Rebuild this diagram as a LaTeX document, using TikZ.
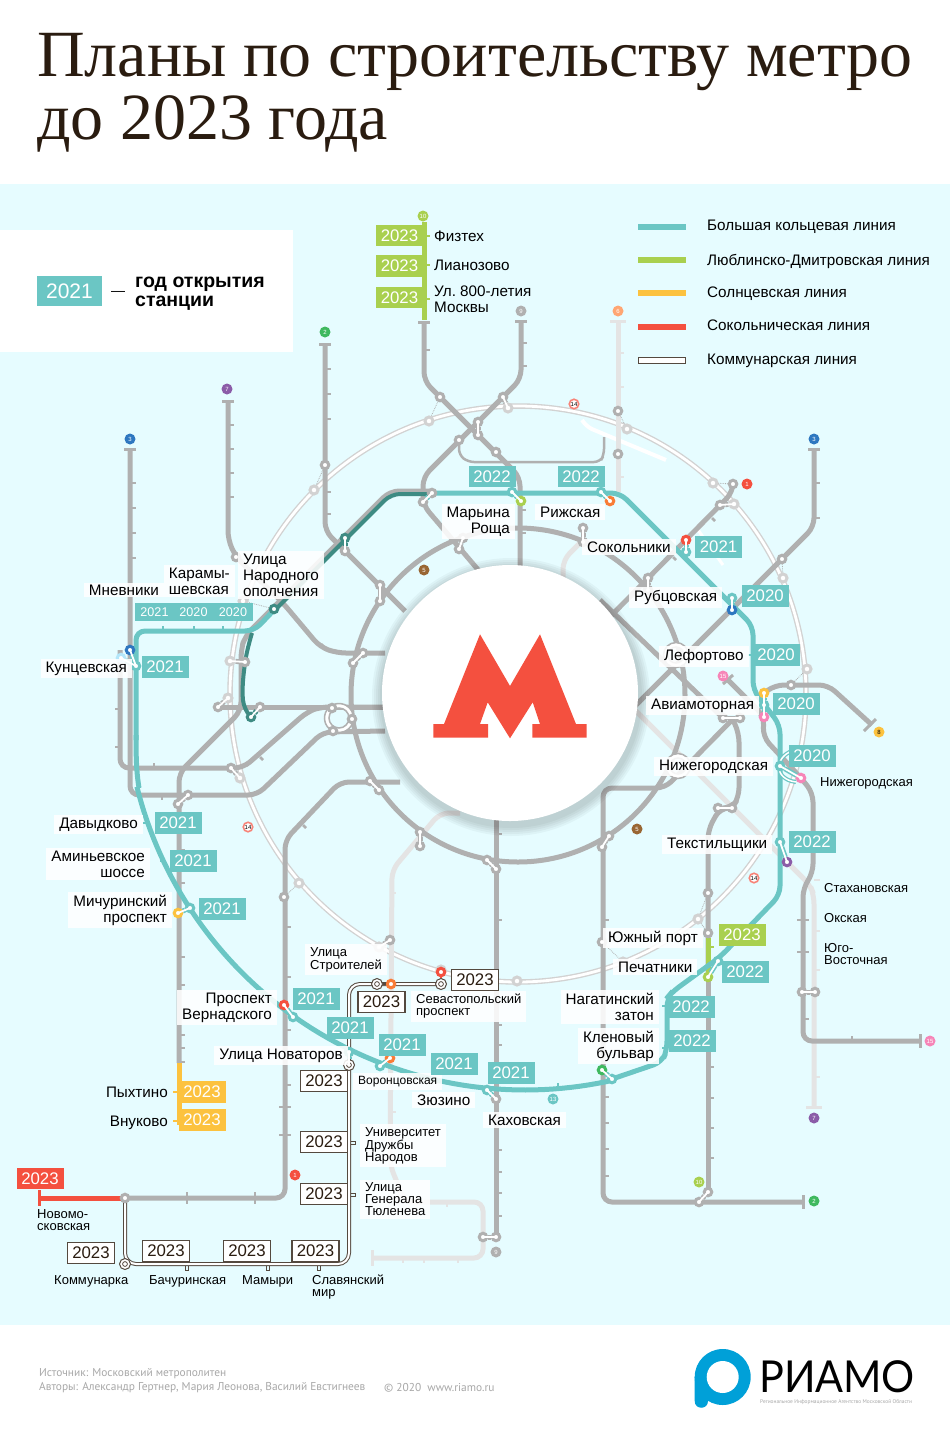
\documentclass[tikz,border=0pt]{standalone}
\usepackage{fontspec}
\setmainfont{Liberation Sans}
\newfontfamily\titlefont{Liberation Serif}
\newfontfamily\footfont{PT Sans}
\newfontfamily\logofont{Lato}
\newcommand\yrfont{\fontsize{16.8}{18}\selectfont}
\newcommand\lblfont{\fontsize{15.25}{16}\selectfont}
\newcommand\slblfont{\fontsize{13}{12}\selectfont}
\definecolor{mapbg}{HTML}{E6FCFF}
\definecolor{mgrey}{HTML}{B0B0B0}
\definecolor{lgrey}{HTML}{E4E4E4}
\definecolor{ringg}{HTML}{D2D2D2}
\definecolor{tealc}{HTML}{6BC6C4}
\definecolor{dteal}{HTML}{3E8B83}
\definecolor{greenc}{HTML}{A9D04F}
\definecolor{yelc}{HTML}{FCC23F}
\definecolor{redc}{HTML}{F4503F}
\definecolor{orc}{HTML}{F97C36}
\definecolor{pinkc}{HTML}{F685B8}
\definecolor{bluec}{HTML}{2E77C0}
\definecolor{violc}{HTML}{8B5CA8}
\definecolor{grnc}{HTML}{3FB95F}
\definecolor{kdark}{HTML}{54493F}
\definecolor{titlec}{HTML}{2A1C10}
\definecolor{footc}{HTML}{A8A8A8}
\definecolor{logoc}{HTML}{00A0D8}
\tikzset{
  mline/.style={mgrey,line width=5,rounded corners=9},
  lline/.style={lgrey,line width=5,rounded corners=9},
  tline/.style={tealc,line width=5,rounded corners=9},
  tickg/.style={mgrey,line width=2.5},
  tickl/.style={lgrey,line width=2.5},
  tickt/.style={tealc,line width=2.5},
  stn/.style={circle,draw=#1,fill=white,line width=3,minimum size=7.5,inner sep=0},
  stn/.default=mgrey,
  rstn/.style={circle,draw=ringg,fill=white,line width=3,minimum size=8,inner sep=0},
  kstn/.style={circle,draw=kdark,fill=white,line width=1,minimum size=11,inner sep=0,
    path picture={\draw[kdark,line width=.8] (path picture bounding box.center) circle (2.4);}},
  yr/.style={fill=#1,text=white,minimum width=47,minimum height=21.5,inner sep=0,font=\yrfont},
  yrw/.style={fill=white,draw=kdark,line width=1.2,text=titlec,minimum width=47,minimum height=21,inner sep=0,font=\yrfont},
  lbl/.style={fill=white,fill opacity=.88,text opacity=1,inner xsep=5,inner ysep=3,yshift=-1.5,font=\lblfont},
  slbl/.style={inner sep=0,font=\slblfont,align=left,anchor=west},
  lnum/.style={circle,fill=#1,text=white,minimum size=11,inner sep=0,font=\fontsize{6}{6}\selectfont},
  lnumr/.style={circle,fill=white,draw=redc!70!white,line width=1.6,text=black,minimum size=9.5,inner sep=0,font=\fontsize{6}{6}\selectfont},
  dotlink/.style={mgrey,line width=.8,densely dotted},
}
\newcommand\xfer[3][mgrey]{%
  \draw[#1,line width=5] (#2) -- (#3);
  \draw[white,line width=1.8] (#2.center) -- (#3.center);}
\begin{document}
\begin{tikzpicture}[x=1pt,y=-1pt]
  \useasboundingbox (0,0) rectangle (950,1436);
  \fill[white] (0,0) rectangle (950,1436);
  \fill[mapbg] (0,184) rectangle (950,1325);
  \node[anchor=base west,inner sep=0,text=titlec,font=\titlefont\fontsize{66}{66}\selectfont] (title1) at (37,76) {Планы по строительству метро};
  \node[anchor=base west,inner sep=0,text=titlec,font=\titlefont\fontsize{66}{66}\selectfont] (title2) at (37,139) {до 2023 года};

  % legend
  \fill[white] (0,230) rectangle (293,352);
  \node[yr=tealc,minimum width=65,minimum height=30,font=\fontsize{21}{22}\selectfont] (keybox) at (69.5,291) {2021};
  \node[inner sep=0,font=\fontsize{14}{14}\selectfont] (keydash) at (118,293) {—};
  \node[anchor=west,inner sep=0,align=left,font=\bfseries\fontsize{19.5}{19}\selectfont] (keytext) at (135,294) {год открытия\\станции};
  \foreach \nm/\py/\ty/\col/\txt in {bkl/227/227/tealc/Большая кольцевая линия,ldl/260/261/greenc/Люблинско-Дмитровская линия,sol/293/294/yelc/Солнцевская линия,sok/327/325/redc/Сокольническая линия}{
    \fill[\col] (638,\py-3) rectangle (686,\py+3);
    \node[anchor=west,inner sep=0,font=\lblfont] (\nm) at (707,\ty) {\txt};
  }
  \draw[kdark,fill=white,line width=1] (638.5,357.5) rectangle (685.5,363);
  \node[anchor=west,inner sep=0,font=\lblfont] (kom) at (707,361) {Коммунарская линия};

  % ring 14
  \draw[ringg,line width=5.5] (518,694) circle (288);
  \draw[white,line width=2.8] (518,694) circle (288);
  \draw[white,line width=4,rounded corners=6] (582,420) -- (587,427) -- (666,460);
  \draw[white,line width=3] (696,527) -- (723,565);

  % pale lines
  \draw[lline] (618,321) -- (618,492);
  \draw[lline] (583,540) -- (563,560) -- (563,585);
  \draw[lline] (600,675) -- (810,885) -- (814,895) -- (814,1107);
  \draw[lline] (460,813) -- (440,813) -- (392,870) -- (390,1165) -- (405,1202) -- (483,1202) -- (483,1258) -- (372,1258);
  \draw[lgrey,line width=3] (372,1250) -- (372,1266);
  \draw[lgrey,line width=3] (610,321) -- (626,321);
  \draw[lgrey,line width=3] (806,1107) -- (822,1107);
  \foreach \px/\py in {618/353,618/387,618/477,390/893,390/1112,814/931,814/970,814/1077,814/880}
    \draw[tickl] (\px,\py) -- ++(6,0);
  \foreach \px in {403,424,458} \draw[tickl] (\px,1258) -- ++(0,5);
  \draw[tickl] (447,1202) -- ++(0,5);

  % metro lines
  \draw[mgrey,line width=5] (518,695) circle (167);
  \draw[mline] (424,322) -- (424,381) -- (520,477) -- (520,600);
  \draw[mline] (521,321) -- (521,379) -- (423,477) -- (423,505) -- (480,572);
  \draw[mline] (325,344) -- (325,531) -- (405,611);
  \draw[mline] (228,401) -- (228,540) -- (236,557) -- (283,603) -- (320,647) -- (337,653) -- (385,653);
  \draw[mline] (130,449) -- (130,795) -- (257,795) -- (323,732) -- (385,731);
  \draw[mline] (120,650) -- (120,768) -- (243,768) -- (307,712) -- (320,707) -- (385,707);
  \draw[mline] (218,707) -- (385,707);
  \draw[mline] (432,491) -- (390,491) -- (245,636) -- (241,650) -- (241,711) -- (179,773) -- (179,1063);
  \draw[mline] (400,782) -- (340,782) -- (285,840) -- (285,1198) -- (125,1198);
  \draw[mline] (496,815) -- (496,1238);
  \draw[mline] (732,720) -- (665,788) -- (603,788) -- (603,1202) -- (803,1202);
  \draw[mline] (708,977) -- (708,830) -- (720,808) -- (732,808) -- (739,797) -- (739,733) -- (732,718);
  \draw[mline] (708,975) -- (708,1192);
  \draw[mline] (733,484) -- (733,492) -- (600,627);
  \draw[mline] (600,600) -- (723,718);
  \draw[mline] (814,449) -- (814,527) -- (600,741);
  \draw[mline] (872,725) -- (828,685) -- (775,685) -- (764,693);
  \draw[mline] (728,680) -- (764,716) -- (763,737) -- (801,778) -- (813,793) -- (813,873) -- (803,888) -- (803,1041) -- (920,1041);
  \draw[mgrey,line width=2.5,rounded corners=6] (459,440) -- (459,455) -- (468,462) -- (600,462) -- (604,455) -- (604,437);
  % end caps
  \foreach \px/\py in {424/322,521/321,325/344,228/401,130/449,814/449}
    \draw[mgrey,line width=3] (\px-6,\py) -- (\px+6,\py);
  \draw[mgrey,line width=3] (803,1195) -- (803,1209);
  \draw[mgrey,line width=3] (920,1034) -- (920,1048);
  \draw[mgrey,line width=3] (864,731) -- (876,719);
  \draw[mgrey,line width=3] (723,684) -- (733,675);
  % ticks
  \foreach \px/\py in {130/483,130/508,130/533,130/558,228/425,228/449,228/473,228/497,325/369,325/394,325/419,325/492,325/514,424/350,521/343,521/366,814/483,814/518,179/850,179/883,179/957,179/985,179/1035,179/1048,179/1062,285/927,285/977,285/1030,285/1085,496/834,496/920,496/1025,496/1045,496/1150,496/1172,496/1193,496/1216,603/920,603/1097,603/1123,603/1149,603/1176,708/1067,708/1098,708/1128,708/1158,803/1019,520/510,520/533}
    \draw[tickg] (\px,\py) -- ++(6,0);
  \foreach \px/\py in {285/1107,285/1135,803/920,803/952}
    \draw[tickg] (\px-6,\py) -- (\px+6,\py);
  \foreach \px in {187,255} \draw[tickg] (\px,1192) -- (\px,1204);
  \draw[tickg] (852,1041) -- ++(0,-5);
  \draw[tickg] (712,518) -- ++(3,3);
  \draw[tickg] (673,557) -- ++(3,3);
  \draw[tickg] (120,709) -- ++(-5,0);
  \draw[tickg] (120,747) -- ++(-5,0);
  \draw[tickg] (154,768) -- ++(0,-5);
  \draw[tickg] (162,795) -- ++(0,5);
  \draw[tickg] (303,630) -- ++(3,-3);
  \draw[tickg] (320,647) -- ++(3,-3);
  \draw[tickg] (260,757) -- ++(3,3);
  \draw[tickg] (303,825) -- ++(3,3);

  % line extensions
  \draw[greenc,line width=5] (424,222) -- (424,320);
  \foreach \py in {236,265,299} \draw[greenc,line width=2.5] (424,\py) -- ++(6,0);
  \draw[greenc,line width=5] (708,938) -- (708,972);
  \draw[greenc,line width=2.5] (708,947) -- ++(6,0);
  \draw[yelc,line width=5] (179,1063) -- (179,1125);
  \foreach \py in {1092,1121} \draw[yelc,line width=2.5] (179,\py) -- ++(-6,0);
  \draw[redc,line width=5] (39,1198) -- (122,1198);
  \draw[redc,line width=3] (39,1190) -- (39,1206);

  % bkl
  \draw[dteal,line width=4,rounded corners=9] (432,494) -- (391,494) -- (274,611);
  \draw[dteal,line width=4] plot[smooth,tension=.7] coordinates {(252,633) (245,663) (243,700) (251,717)};
  \draw[tline] (432,493) -- (620,493) -- (753,626) -- (753,690) -- (780,725) -- (780,895) -- (720,957) -- (672,992) -- (667,998) -- (667,1050) -- (662,1062) -- (612,1079);
  \draw[tealc,line width=5] plot[domain=77:166,samples=70] ({525+400*cos(\x)},{690+400*sin(\x)});
  \draw[tealc,line width=5] (139,788) .. controls (137,775) and (136,765) .. (136,735);
  \draw[tline] (136,740) -- (136,631) -- (254,631) -- (274,610);
  \foreach \px in {163,194,223} \draw[tickt] (\px,631) -- ++(0,-5);
  \foreach \px/\py in {143/823,160/861,748/655,662/1006,662/1048} \draw[tickt] (\px,\py) -- ++(5,0);
  \draw[tickt] (558,1088) -- ++(0,-5);
  \draw[tealc,line width=4] (792,751) .. controls (775,757) and (773,779) .. (796,782);
  \draw[white,line width=1.5] (792,751) .. controls (775,757) and (773,779) .. (796,782);

  % kommunarskaya
  \draw[kdark,line width=4,rounded corners=11] (125,1198) -- (125,1264) -- (349,1264) -- (349,984) -- (441,984);
  \draw[white,line width=2,rounded corners=11] (125,1198) -- (125,1264) -- (349,1264) -- (349,984) -- (441,984);
  \foreach \px in {187,268,319} \draw[kdark,line width=1] (\px-1.5,1266) -- (\px-1.5,1270) -- (\px+1.5,1270) -- (\px+1.5,1266);
  \foreach \py in {1143,1195} \draw[kdark,line width=1] (351,\py-1.5) -- (355,\py-1.5) -- (355,\py+1.5) -- (351,\py+1.5);

  % logo circle
  \foreach \rr in {139,137,135,133,131}
    \fill[black,opacity=.035] (511,697) circle (\rr);
  \fill[white] (510,693) circle (128);
  \fill[redc] (433.3,724) -- (444,724) -- (480,634.3) -- (510,686) -- (540,634.3) -- (576,724) -- (586.7,724) -- (586.7,737.7) -- (532.3,737.7) -- (532.3,724) -- (540,724) -- (532.7,702.3) -- (510,738.3) -- (487.7,702.3) -- (480,724) -- (488,724) -- (488,737.7) -- (433.3,737.7) -- cycle;

  % stations
  \foreach \cx/\cy/\cr in {339/718/12,676/655/10,678/766/10}{
    \draw[white,line width=4] (\cx,\cy) circle (\cr);
    \draw[mgrey,line width=1.5] (\cx,\cy) circle (\cr+2.5);
    \draw[mgrey,line width=1.5] (\cx,\cy) circle (\cr-2);
  }
  \foreach \nm/\px/\py in {r1/429/421,r2/508/408,r3/627/429,r4/713/483,r5/734/504,r6/783/578,r7/807/669,r8/698/919,r9/623/962,r10/517/981,r11/379/947,r12/299/883,r13/240/778,r14/228/698,r15/230/661,r16/314/490,r17/243/601,r18/441/970}
    \node[rstn] (\nm) at (\px,\py) {};
  \foreach \nm/\px/\py in {s1/440/397,s2/503/397,s3/478/422,s4/478/435,s5/496/452,s6/459/440,s7/432/493,s8/423/502,s9/325/465,s10/618/411,s11/618/454,s12/733/484,s13/720/505,s14/782/559,s15/648/578,s16/648/590,s17/345/551,s18/380/585,s19/380/601,s20/463/538,s21/459/549,s22/583/528,s23/583/542,s24/236/557,s25/245/662,s26/218/707,s27/231/768,s28/188/795,s29/178/804,s30/370/781,s31/379/790,s32/363/653,s33/353/663,s34/420/832,s35/420/846,s36/487/860,s37/496/869,s38/609/836,s39/602/847,s40/718/808,s41/732/808,s42/723/718,s43/740/718,s44/791/685,s45/708/893,s46/708/933,s47/602/942,s48/390/940,s49/284/897,s50/802/992,s51/815/992,s52/699/1202,s53/708/1192,s54/483/1237,s55/496/1237,s56/496/1099,s57/125/1198,s58/332/708,s59/352/719,s60/333/731,s61/260/707}
    \node[stn] (\nm) at (\px,\py) {};
  \foreach \nm/\px/\py/\col in {t1/512/492/tealc,t2/521/501/greenc,t3/601/492/tealc,t4/610/501/orc,t5/686/540/redc,t6/686/552/tealc,t7/732/598/tealc,t8/732/610/bluec,t9/764/693/yelc,t10/764/705/tealc,t11/764/717/pinkc,t12/780/766/tealc,t13/801/778/pinkc,t14/780/842/tealc,t15/787/862/violc,t16/718/961/tealc,t17/708/977/greenc,t18/612/1079/tealc,t19/602/1070/grnc,t20/487/1090/tealc,t21/380/1066/tealc,t22/390/1058/orc,t23/349/1052/tealc,t24/293/1017/tealc,t25/284/1005/redc,t26/190/908/tealc,t27/178/913/yelc,t28/136/666/tealc,t29/130/650/bluec,t30/121/658/cyan!30!white,t31/274/609/dteal,t32/251/717/dteal,t33/345/538/dteal,t34/391/984/orc,t35/441/972/redc}
    \node[stn=\col] (\nm) at (\px,\py) {};
  \foreach \nm/\px/\py in {k1/125/1264,k2/349/1065,k3/377/984,k4/441/984}
    \node[kstn] (\nm) at (\px,\py) {};

  % transfers
  \xfer{s2}{r2}
  \xfer{s3}{s4}
  \xfer[tealc]{s7}{s8}
  \xfer[tealc]{t1}{t2}
  \xfer[tealc]{t3}{t4}
  \xfer[tealc]{t5}{t6}
  \xfer[tealc]{t7}{t8}
  \xfer[tealc]{t9}{t10}
  \xfer[tealc]{t10}{t11}
  \xfer[tealc]{t12}{t13}
  \xfer[tealc]{t14}{t15}
  \xfer[tealc]{t16}{t17}
  \xfer[tealc]{t18}{t19}
  \xfer[tealc]{t20}{s56}
  \xfer[tealc]{t21}{t22}
  \xfer[tealc]{t23}{k2}
  \xfer[tealc]{t24}{t25}
  \xfer[tealc]{t26}{t27}
  \xfer[tealc]{t28}{t29}
  \xfer[tealc]{t28}{t30}
  \xfer[dteal]{t32}{s61}
  \xfer[dteal]{t33}{s17}
  \xfer{s18}{s19}
  \xfer{s20}{s21}
  \xfer{s22}{s23}
  \xfer{s13}{r5}
  \xfer{s15}{s16}
  \xfer{r15}{s25}
  \xfer{r14}{s26}
  \xfer{s27}{r13}
  \xfer{s28}{s29}
  \xfer{s30}{s31}
  \xfer{s32}{s33}
  \xfer{s34}{s35}
  \xfer{s36}{s37}
  \xfer{s38}{s39}
  \xfer{s40}{s41}
  \xfer{s42}{s43}
  \xfer{s48}{r11}
  \xfer{s50}{s51}
  \xfer{s52}{s53}
  \xfer{s54}{s55}
  \draw[kdark,line width=1.5] (k3) -- (t34);
  \draw[redc,line width=1.5] (t35) -- (k4);

  % dotted walkways
  \foreach \aa/\bb in {s1/r1,s9/r16,s10/r3,s12/r4,s14/r6,s44/r7,s45/r8,r8/s46,s47/r9,s49/r12,t31/r17}
    \draw[dotlink] (\aa) -- (\bb);

  % labels
  \node[lbl,anchor=east,align=right] (mroshcha) at (515,520) {Марьина\\Роща};
  \node[lbl,anchor=west] (rizh) at (535,510.5) {Рижская};
  \node[lbl,anchor=west] (sokol) at (582,545.5) {Сокольники};
  \node[lbl,anchor=west] (rubc) at (629,596) {Рубцовская};
  \node[lbl,anchor=west] (lefo) at (659,655) {Лефортово};
  \node[lbl,anchor=west] (avia) at (646,704) {Авиамоторная};
  \node[lbl,anchor=west] (nizh) at (654,765) {Нижегородская};
  \node[lbl,anchor=west] (text) at (662,843) {Текстильщики};
  \node[lbl,anchor=west] (yuzh) at (603,936.5) {Южный порт};
  \node[lbl,anchor=west] (pech) at (613,965.5) {Печатники};
  \node[lbl,anchor=east,align=right] (nagat) at (659,1005.5) {Нагатинский\\затон};
  \node[lbl,anchor=east,align=right] (klen) at (659,1044.5) {Кленовый\\бульвар};
  \node[lbl,anchor=west] (kakh) at (483,1118.5) {Каховская};
  \node[lbl,anchor=west] (zyuz) at (412,1098.5) {Зюзино};
  \node[lbl,anchor=east,align=right] (vern) at (277,1006) {Проспект\\Вернадского};
  \node[lbl,anchor=east] (novat) at (348,1054) {Улица Новаторов};
  \node[lbl,anchor=east,align=right] (michur) at (172,908.5) {Мичуринский\\проспект};
  \node[lbl,anchor=east,align=right] (amin) at (150,862.5) {Аминьевское\\шоссе};
  \node[lbl,anchor=east] (davyd) at (143,823) {Давыдково};
  \node[lbl,anchor=east] (kunc) at (132,667) {Кунцевская};
  \node[lbl,anchor=east,inner ysep=2] (mnev) at (164,588.5) {Мневники};
  \node[lbl,anchor=east,align=left] (karam) at (235,579.5) {Карамы-\\шевская};
  \node[lbl,anchor=west,align=left] (narod) at (238,573.5) {Улица\\Народного\\ополчения};
  \node[lbl,anchor=west,font=\slblfont,align=left] (stroit) at (305,958) {Улица\\Строителей};
  \node[lbl,anchor=west,font=\slblfont,align=left] (sevast) at (411,1005) {Севастопольский\\проспект};
  \node[lbl,anchor=west,font=\slblfont,align=left] (univ) at (360,1144) {Университет\\Дружбы\\Народов};
  \node[lbl,anchor=west,font=\slblfont,align=left] (tyul) at (360,1198) {Улица\\Генерала\\Тюленева};
  \node[lbl,anchor=west,font=\fontsize{12}{12}\selectfont] (voron) at (353,1080) {Воронцовская};

  % labels on the bare background
  \node[anchor=west,inner sep=0,font=\lblfont] (fiz) at (434,236) {Физтех};
  \node[anchor=west,inner sep=0,font=\lblfont] (lian) at (434,265) {Лианозово};
  \node[anchor=west,inner sep=0,font=\lblfont,align=left] (ul800) at (434,299) {Ул.\ 800-летия\\Москвы};
  \node[anchor=east,inner sep=0,font=\lblfont] (pykh) at (168,1092) {Пыхтино};
  \node[anchor=east,inner sep=0,font=\lblfont] (vnuk) at (168,1122.5) {Внуково};
  \node[slbl] (nizh2) at (820,783) {Нижегородская};
  \node[slbl] (stakh) at (824,888) {Стахановская};
  \node[slbl] (oks) at (824,918) {Окская};
  \node[slbl] (yugv) at (824,954) {Юго-\\Восточная};
  \node[slbl] (novom) at (37,1220) {Новомо-\\сковская};
  \node[slbl] (kommun) at (54,1281) {Коммунарка};
  \node[slbl] (bach) at (149,1281) {Бачуринская};
  \node[slbl] (mam) at (242,1281) {Мамыри};
  \node[slbl] (slav) at (312,1287) {Славянский\\мир};

  % year boxes
  \foreach \nm/\px/\py/\yy in {a/492/476.5/2022,b/581/476.5/2022,c/718.5/547/2021,d/765/596/2020,e/776/655/2020,f/796/704/2020,g/812/756/2020,h/812/842/2022,i/745/972/2022,j/691/1007/2022,k/692/1041/2022,l/511/1073/2021,m/454/1064/2021,n/402/1045/2021,o/350/1028/2021,p/316/999/2021,q/222/909/2021,r/193/861/2021,s/178/823/2021,t/165/667/2021}
    \node[yr=tealc] (yr\nm) at (\px,\py) {\yy};
  \foreach \nm/\px/\yy in {a/154.5/2021,b/193.5/2020,c/233/2020}
    \node[yr=tealc,minimum width=39.5,minimum height=18,font=\fontsize{12.6}{13}\selectfont] (ys\nm) at (\px,612) {\yy};
  \foreach \nm/\py in {a/235.5,b/266,c/297.5}
    \node[yr=greenc] (yg\nm) at (399.5,\py) {2023};
  \node[yr=greenc] (ygd) at (742,935) {2023};
  \node[yr=yelc] (yya) at (202,1092) {2023};
  \node[yr=yelc] (yyb) at (202,1120) {2023};
  \node[yr=redc] (yred) at (40,1178.5) {2023};
  \foreach \nm/\px/\py in {a/91/1253,b/166/1251,c/247/1251,d/315.5/1251,e/324/1194,f/324/1142,g/324/1081,h/381.5/1002,i/475/980}
    \node[yrw] (yw\nm) at (\px,\py) {2023};

  % line numbers
  \foreach \nm/\px/\py/\col/\no in {n1/423/216/greenc/10,n2/325/332/grnc/2,n3/227/389/violc/7,n4/130/439/bluec/3,n5/521/311/mgrey/9,n6/618/311/orange!40!pink/6,n7/814/439/bluec/3,n8/747/484/redc/1,n9/424/570/brown!80!black/5,n10/723/676/pinkc/15,n11/637/829/brown!80!black/5,n12/553/1099/tealc/13,n13/699/1182/greenc/10,n14/814/1201/grnc/2,n15/814/1118/violc/7,n16/930/1041/pinkc/15,n17/496/1252/mgrey/9,n18/295/1175/redc/1}
    \node[lnum=\col] (\nm) at (\px,\py) {\no};
  \foreach \nm/\px/\py in {n19/574/404,n20/248/827,n21/754/878}
    \node[lnumr] (\nm) at (\px,\py) {14};
  \node[lnum=yelc,text=black] (n22) at (879,732) {8};

  % footer
  \node[anchor=west,inner sep=0,text=footc,font=\footfont\fontsize{11.4}{11}\selectfont] (foot1) at (39,1374) {Источник: Московский метрополитен};
  \node[anchor=west,inner sep=0,text=footc,font=\footfont\fontsize{11.4}{11}\selectfont] (foot2) at (39,1387.5) {Авторы: Александр Гертнер, Мария Леонова, Василий Евстигнеев};
  \node[anchor=west,inner sep=0,text=footc,font=\footfont\fontsize{11.4}{11}\selectfont] (foot3) at (384,1387.5) {© 2020\ \ www.riamo.ru};

  % riamo
  \fill[logoc] (722.7,1377) circle (28);
  \fill[logoc] (694.7,1377) -- (694.7,1401) .. controls (694.7,1410) and (708,1410) .. (708,1401) -- (708,1395) -- (722,1395) -- cycle;
  \fill[white] (722.7,1377) circle (16);
  \node[anchor=base west,inner sep=0,transform shape,xscale=.94,font=\logofont\fontsize{44}{44}\selectfont] (riamo) at (759,1392) {РИАМО};
  \node[anchor=west,inner sep=0,text=footc,font=\footfont\fontsize{5.4}{5}\selectfont] (riamo2) at (760,1402) {Региональное Информационное Агентство Московской Области};
\end{tikzpicture}
\end{document}
